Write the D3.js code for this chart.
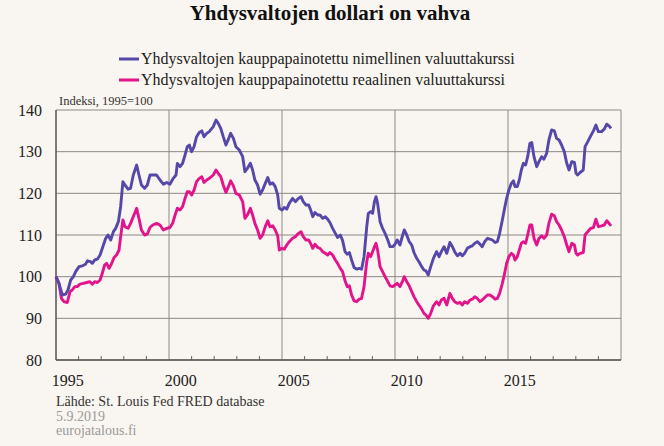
<!DOCTYPE html>
<html>
<head>
<meta charset="utf-8">
<script src="https://cdn.jsdelivr.net/npm/d3@7"></script>
<style>
  html, body { margin: 0; padding: 0; background: #f9f5f0; }
  svg { display: block; }
  text { font-family: "Liberation Serif", "Times New Roman", serif; }
</style>
</head>
<body>
<svg id="chart" width="664" height="446"></svg>
<script>
// ---- Data ----
const title = "Yhdysvaltojen dollari on vahva";
const seriesNames = [
  "Yhdysvaltojen kauppapainotettu nimellinen valuuttakurssi",
  "Yhdysvaltojen kauppapainotettu reaalinen valuuttakurssi"
];
const unitLabel = "Indeksi, 1995=100";
const sourceLines = ["Lähde: St. Louis Fed FRED database", "5.9.2019", "eurojatalous.fi"];
const yTicks = [80, 90, 100, 110, 120, 130, 140];
const xTickYears = [1995, 2000, 2005, 2010, 2015];

const nominalYears = [
  1995.00,1995.13,1995.28,1995.43,1995.53,1995.65,1995.77,1995.87,1996.02,1996.17,1996.31,1996.39,1996.53,1996.61,1996.71,1996.83,1996.95,
  1997.05,1997.20,1997.30,1997.42,1997.54,1997.64,1997.76,1997.86,1997.96,1998.05,1998.19,1998.30,1998.42,1998.57,1998.67,1998.78,1998.92,
  1999.04,1999.16,1999.28,1999.45,1999.60,1999.75,1999.90,2000.04,2000.19,2000.31,2000.37,2000.49,2000.60,2000.71,2000.81,2000.90,
  2001.00,2001.11,2001.22,2001.34,2001.45,2001.55,2001.67,2001.78,2001.96,2002.08,2002.18,2002.29,2002.40,2002.52,2002.63,2002.73,2002.85,2002.96,
  2003.11,2003.26,2003.36,2003.47,2003.60,2003.70,2003.80,2003.92,2004.03,2004.14,2004.26,2004.37,2004.47,2004.59,2004.70,2004.81,2004.88,
  2005.00,2005.10,2005.21,2005.32,2005.47,2005.59,2005.69,2005.84,2005.94,2006.06,2006.18,2006.28,2006.36,2006.46,2006.58,2006.68,2006.80,2006.92,
  2007.02,2007.12,2007.24,2007.36,2007.46,2007.58,2007.68,2007.79,2007.89,2007.98,2008.08,2008.19,2008.30,2008.42,2008.52,2008.63,2008.75,2008.82,2008.92,
  2009.01,2009.09,2009.16,2009.23,2009.34,2009.45,2009.56,2009.68,2009.78,2009.90,2010.00,2010.10,2010.22,2010.34,2010.41,2010.52,2010.63,2010.74,2010.84,2010.96,
  2011.08,2011.18,2011.28,2011.37,2011.47,2011.58,2011.70,2011.84,2011.95,2012.05,2012.17,2012.29,2012.43,2012.54,2012.64,2012.76,2012.88,2012.98,
  2013.08,2013.20,2013.32,2013.42,2013.53,2013.64,2013.76,2013.86,2013.97,2014.09,2014.20,2014.31,2014.43,2014.53,2014.63,2014.75,2014.85,2014.94,
  2015.04,2015.15,2015.24,2015.31,2015.41,2015.50,2015.59,2015.68,2015.78,2015.87,2015.97,2016.05,2016.15,2016.27,2016.37,2016.49,2016.59,2016.71,2016.81,2016.93,
  2017.05,2017.15,2017.26,2017.37,2017.49,2017.60,2017.70,2017.82,2017.94,2018.01,2018.08,2018.19,2018.33,2018.41,2018.53,2018.66,2018.78,2018.89,
  2019.00,2019.14,2019.26,2019.37,2019.47,2019.56
];
const nominalIndex = [
  100,98.4,95.6,95.8,96.8,99.2,100,101.2,102.4,102.6,103,103.8,103.6,103.2,104,104.2,105.2,
  106.8,109.2,110,108.8,110.8,111.6,113.2,116.8,122.8,122,121,121.2,124.4,126.8,124.4,122,121.2,
  122,124.4,124.4,124.4,123.2,122.2,122.6,122.2,123.6,124.4,127.2,126.4,127.2,129.2,131.2,131.6,
  130,131.2,133.6,134.6,135,133.6,134.4,134.8,136,137.6,136.8,135.6,133.6,131.6,133,134.4,133.2,131.2,
  130.4,128.8,125.2,126,127.2,125.6,123.2,122,119.8,120.8,122.4,123.8,122.2,122.5,121.6,119.6,116.4,
  116,116.6,116.2,117.6,118.8,118,118.6,119.2,118,117.2,117.2,115.8,114.4,115.4,114.8,114.8,114,114.4,
  113.8,113,111.6,110.4,109.4,110,108.7,106,105.4,105.8,104,102.2,101.8,102,101.8,104.8,112,115.2,115.6,
  115.2,118,119.2,117.6,113.2,111.6,110.4,108.8,107.2,107.2,107.8,108.8,107.6,110,111.2,110,108.4,107.6,105.8,104.4,
  103.4,102.4,101.6,101.4,100.4,102.4,104.4,106,104.8,106,107.2,105.6,108.2,107.2,106,105,105.6,105,
  105.6,106.8,107.2,107.4,108,108.4,107.8,107.2,108.4,109.2,109,108.8,108.2,108.4,110.4,113.6,116.4,118.8,
  120.8,122.4,123,121.6,121.6,123.2,125.6,127.2,126.8,128.8,132,132.2,128.8,126.4,127.6,128.8,128.2,129.6,132.8,135.2,
  135,133.2,132.8,131.6,130,127.2,125.6,127.6,127.4,124.8,124.4,125,125.6,131.2,132.4,133.8,135,136.4,
  134.8,134.8,135.4,136.6,136.2,135.6
];

const realYears = [
  1995.00,1995.13,1995.24,1995.35,1995.50,1995.62,1995.72,1995.83,1995.94,1996.06,1996.21,1996.36,1996.50,1996.61,1996.71,1996.83,1996.95,
  1997.05,1997.15,1997.24,1997.35,1997.45,1997.57,1997.68,1997.79,1997.86,1997.96,1998.05,1998.19,1998.30,1998.42,1998.57,1998.67,1998.78,1998.92,
  1999.04,1999.16,1999.28,1999.45,1999.60,1999.75,1999.90,2000.04,2000.16,2000.27,2000.37,2000.49,2000.60,2000.71,2000.81,2000.90,
  2001.00,2001.11,2001.22,2001.34,2001.45,2001.55,2001.67,2001.78,2001.96,2002.08,2002.18,2002.29,2002.40,2002.52,2002.63,2002.73,2002.85,2002.96,
  2003.11,2003.26,2003.36,2003.47,2003.60,2003.70,2003.80,2003.92,2004.03,2004.14,2004.26,2004.37,2004.47,2004.59,2004.70,2004.81,2004.88,
  2005.00,2005.10,2005.21,2005.32,2005.47,2005.59,2005.69,2005.84,2005.94,2006.06,2006.18,2006.28,2006.36,2006.46,2006.58,2006.68,2006.80,2006.92,
  2007.02,2007.12,2007.24,2007.36,2007.46,2007.58,2007.68,2007.79,2007.89,2007.98,2008.08,2008.19,2008.30,2008.42,2008.52,2008.63,2008.75,2008.82,2008.92,
  2009.01,2009.09,2009.16,2009.23,2009.34,2009.45,2009.56,2009.68,2009.78,2009.90,2010.00,2010.10,2010.22,2010.34,2010.41,2010.52,2010.63,2010.74,2010.84,2010.96,
  2011.08,2011.18,2011.28,2011.37,2011.47,2011.58,2011.70,2011.84,2011.95,2012.05,2012.17,2012.29,2012.43,2012.54,2012.64,2012.76,2012.88,2012.98,
  2013.08,2013.20,2013.32,2013.42,2013.53,2013.64,2013.76,2013.86,2013.97,2014.09,2014.20,2014.31,2014.43,2014.53,2014.63,2014.75,2014.85,2014.94,
  2015.04,2015.15,2015.24,2015.31,2015.41,2015.50,2015.59,2015.68,2015.78,2015.87,2015.97,2016.05,2016.15,2016.27,2016.37,2016.49,2016.59,2016.71,2016.81,2016.93,
  2017.05,2017.15,2017.26,2017.37,2017.49,2017.60,2017.70,2017.82,2017.94,2018.01,2018.08,2018.19,2018.33,2018.41,2018.53,2018.66,2018.78,2018.89,
  2019.00,2019.14,2019.26,2019.37,2019.47,2019.56
];
const realIndex = [
  100,98.4,94.8,94,93.8,96.4,96.8,97.6,97.6,98.2,98.4,98.6,98.8,98.2,98.8,98.6,99.2,
  100.8,102.8,103.2,102,103,104.6,105.2,106.4,109.6,113.6,112,111.6,112.8,114.4,116.4,114,111.2,110,
  110.2,111.8,112.4,112.8,112.4,111.2,111.6,111.8,112.8,114.8,116.4,116,116.8,118.8,120.4,120.4,
  119.6,120.8,122.8,123.6,124,122.6,123.2,123.6,124.4,125.6,124.8,124,122,120.2,121.6,123,121.8,120,
  119.6,118,114,114.8,116.4,114.8,112.8,111.2,109.2,110,112,113.4,112,112.2,111.2,109.8,106.4,
  106.8,106.6,107.6,108.4,109.2,109.6,110.2,110.8,109.6,108.8,108.8,107.8,106.8,107.8,107,106.8,106,105.6,
  105.2,105.8,105.2,104,103.2,102,101.2,99,97.6,97.8,95.6,94.2,94,94.6,94.8,97.6,103.6,105.6,104.8,
  106,107.2,108,106.4,102.4,101.2,100,98.8,97.8,97.6,98,98.4,97.6,99,100,98.8,97.8,96.4,95.2,94,
  93,92.2,91.2,90.8,90,91.2,93,94,93.2,94.4,94.8,93.2,96,94.8,94,93.6,93.8,93.2,
  94,93.6,94.4,94.6,95.2,94.8,94,94.4,95,95.6,95.6,95.2,94.6,94.8,96,98.4,100.8,103.2,
  104.8,105.6,105.2,104,104.8,106.4,108,108.4,108,110,112.4,112.4,109.2,107.6,109.2,109.8,109.2,110,112.8,115,
  114.6,113.2,112.4,111.2,109.6,107.6,106,108,107.6,105.6,105.2,105.6,105.8,110,110.8,111.6,111.8,113.8,
  112,112.2,112.4,113.4,112.8,112.2
];
const seriesColors = ["#5548a8", "#e3148b"];

// ---- Chart ----
const svg = d3.select("#chart");
const W = 664, H = 446;
const plot = { left: 56, right: 621, top: 110, bottom: 360 };

const x = d3.scaleLinear().domain([1995, 2020]).range([plot.left, plot.right]);
const y = d3.scaleLinear().domain([80, 140]).range([plot.bottom, plot.top]);

svg.append("rect").attr("width", W).attr("height", H).attr("fill", "#f9f5f0");

// Title
svg.append("text")
  .attr("x", 330).attr("y", 20)
  .attr("text-anchor", "middle")
  .attr("font-size", 21).attr("font-weight", "bold").attr("fill", "#111")
  .text(title);

// Legend
const legend = svg.append("g");
seriesNames.forEach((name, i) => {
  const yy = 59 + i * 21;
  legend.append("line")
    .attr("x1", 119).attr("x2", 139).attr("y1", yy).attr("y2", yy)
    .attr("stroke", seriesColors[i]).attr("stroke-width", 3);
  legend.append("text")
    .attr("x", 141).attr("y", yy + 5)
    .attr("font-size", 16).attr("fill", "#222")
    .text(name);
});

// Unit label
svg.append("text")
  .attr("x", 59).attr("y", 105)
  .attr("font-size", 12.5).attr("fill", "#333")
  .text(unitLabel);

// Horizontal gridlines
svg.append("g").selectAll("line").data(yTicks).join("line")
  .attr("x1", plot.left).attr("x2", plot.right)
  .attr("y1", d => y(d)).attr("y2", d => y(d))
  .attr("stroke", "#8c8884").attr("stroke-width", 1);

// Vertical gridlines at 5-year marks (plus right frame)
svg.append("g").selectAll("line").data(xTickYears.concat([2020])).join("line")
  .attr("x1", d => x(d)).attr("x2", d => x(d))
  .attr("y1", plot.top).attr("y2", plot.bottom)
  .attr("stroke", "#8c8884").attr("stroke-width", 1);

// Yearly minor ticks on bottom axis
svg.append("g").selectAll("line").data(d3.range(1996, 2020).filter(v => v % 5 !== 0)).join("line")
  .attr("x1", d => x(d)).attr("x2", d => x(d))
  .attr("y1", plot.bottom).attr("y2", plot.bottom - 4)
  .attr("stroke", "#666").attr("stroke-width", 1);

// Left and bottom axis lines
svg.append("line").attr("x1", plot.left).attr("x2", plot.left)
  .attr("y1", plot.top).attr("y2", plot.bottom)
  .attr("stroke", "#555").attr("stroke-width", 1.3);
svg.append("line").attr("x1", plot.left).attr("x2", plot.right)
  .attr("y1", plot.bottom).attr("y2", plot.bottom)
  .attr("stroke", "#555").attr("stroke-width", 1.3);

// Y axis labels
const yAxis = d3.axisLeft(y).tickValues(yTicks).tickSize(0).tickPadding(14);
const gy = svg.append("g").attr("transform", `translate(${plot.left},0)`).call(yAxis);
gy.select(".domain").remove();
gy.selectAll("text").attr("font-family", "Liberation Serif, serif").attr("font-size", 16).attr("fill", "#222");

// X axis labels (centred on the middle of each labelled year)
const halfYear = x(1995.5) - x(1995);
const xAxis = d3.axisBottom(x).tickValues(xTickYears).tickFormat(d3.format("d")).tickSize(0).tickPadding(15);
const gx = svg.append("g").attr("transform", `translate(${halfYear},${plot.bottom})`).call(xAxis);
gx.select(".domain").remove();
gx.selectAll("text").attr("font-family", "Liberation Serif, serif").attr("font-size", 16).attr("fill", "#222");

// Lines
const line = d3.line().x(d => x(d[0])).y(d => y(d[1]));
const series = [
  d3.zip(nominalYears, nominalIndex),
  d3.zip(realYears, realIndex)
];
[1, 0].forEach(i => {
  svg.append("path")
    .datum(series[i])
    .attr("fill", "none")
    .attr("stroke", seriesColors[i])
    .attr("stroke-width", 2.9)
    .attr("stroke-linejoin", "round")
    .attr("d", line);
});

// Footer
const footerColors = ["#333", "#9a9a9a", "#9a9a9a"];
sourceLines.forEach((t, i) => {
  svg.append("text")
    .attr("x", 56).attr("y", 406 + i * 14.5)
    .attr("font-size", 14).attr("fill", footerColors[i])
    .text(t);
});
</script>
</body>
</html>
